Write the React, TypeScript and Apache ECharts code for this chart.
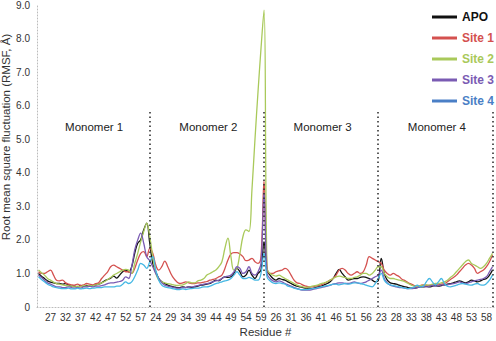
import React, { useEffect, useRef } from "react";
import * as echarts from "echarts";

// Residue numbering of each monomer (x-axis ticks)
const residueFirst = 23;
const residueLast = 60;
const monomerNames = ["Monomer 1", "Monomer 2", "Monomer 3", "Monomer 4"];
const yTicks = [0, 1, 2, 3, 4, 5, 6, 7, 8, 9];

const seriesNames = ["APO", "Site 1", "Site 2", "Site 3", "Site 4"];
const lineColors = ["#111111", "#d4514f", "#a9c95a", "#7a5bb3", "#45b8e4"];
const legendColors = ["#111111", "#d4514f", "#a9c95a", "#7a5bb3", "#4a7fc6"];

// RMSF values per monomer (residues 23..60)
const apoM1 = [1.0, 0.92, 0.85, 0.78, 0.74, 0.72, 0.7, 0.7, 0.68, 0.7, 0.66, 0.62, 0.62, 0.6, 0.64, 0.62, 0.64, 0.62, 0.64, 0.66, 0.68, 0.72, 0.78, 0.82, 0.86, 0.92, 0.86, 0.95, 1.05, 1.1, 1.05, 1.2, 1.6, 1.9, 2.0, 2.3, 2.5, 1.9];
const apoM2 = [1.3, 1.05, 0.85, 0.75, 0.7, 0.65, 0.62, 0.6, 0.58, 0.58, 0.6, 0.58, 0.6, 0.58, 0.6, 0.62, 0.65, 0.66, 0.68, 0.7, 0.75, 0.8, 0.78, 0.85, 0.9, 0.88, 0.9, 1.0, 1.15, 1.05, 0.9, 0.95, 1.1, 0.95, 0.85, 1.0, 1.1, 1.95];
const apoM3 = [1.1, 0.95, 0.85, 0.8, 0.85, 0.82, 0.8, 0.75, 0.7, 0.65, 0.62, 0.6, 0.58, 0.56, 0.56, 0.55, 0.58, 0.6, 0.62, 0.66, 0.7, 0.75, 0.85, 1.0, 1.12, 1.0, 0.9, 0.8, 0.82, 0.85, 0.85, 0.88, 0.9, 0.88, 0.85, 0.8, 0.75, 0.78];
const apoM4 = [1.45, 1.0, 0.8, 0.72, 0.7, 0.68, 0.65, 0.62, 0.6, 0.58, 0.56, 0.56, 0.58, 0.6, 0.6, 0.62, 0.6, 0.62, 0.64, 0.62, 0.64, 0.66, 0.68, 0.7, 0.72, 0.75, 0.78, 0.75, 0.72, 0.75, 0.8, 0.78, 0.75, 0.78, 0.82, 0.85, 0.95, 1.1];

const site1M1 = [1.05, 1.0, 1.0, 1.05, 1.1, 0.95, 0.8, 0.78, 0.8, 0.72, 0.68, 0.66, 0.65, 0.68, 0.64, 0.66, 0.7, 0.68, 0.66, 0.7, 0.72, 0.85, 0.95, 1.05, 1.2, 1.25, 1.2, 1.15, 1.1, 1.05, 1.05, 1.0, 1.15, 1.4, 1.6, 1.65, 1.5, 1.75];
const site1M2 = [1.6, 1.25, 1.1, 1.2, 1.37, 1.2, 1.0, 0.85, 0.75, 0.7, 0.72, 0.75, 0.72, 0.7, 0.7, 0.72, 0.72, 0.74, 0.76, 0.8, 0.82, 0.85, 0.9, 0.95, 1.15, 1.4, 1.58, 1.62, 1.62, 1.58, 1.5, 1.38, 1.4, 1.45, 1.35, 1.3, 1.5, 3.75];
const site1M3 = [1.2, 1.0, 1.0, 1.05, 1.08, 1.1, 1.15, 1.1, 0.95, 0.8, 0.72, 0.7, 0.65, 0.62, 0.6, 0.6, 0.62, 0.64, 0.66, 0.7, 0.75, 0.8, 0.85, 0.95, 1.1, 1.15, 1.1, 1.0, 0.95, 1.0, 1.05, 1.0, 1.05, 1.25, 1.5, 1.45, 1.4, 1.35];
const site1M4 = [1.3, 1.1, 1.0, 0.95, 1.0, 0.95, 0.9, 0.82, 0.78, 0.72, 0.68, 0.64, 0.62, 0.64, 0.66, 0.65, 0.64, 0.66, 0.68, 0.66, 0.68, 0.7, 0.75, 0.82, 0.88, 0.95, 1.05, 1.15, 1.25, 1.3, 1.25, 1.15, 1.0, 1.05, 1.1, 1.2, 1.35, 1.55];

const site2M1 = [1.1, 1.02, 0.95, 0.85, 0.8, 0.74, 0.7, 0.68, 0.66, 0.64, 0.63, 0.62, 0.6, 0.62, 0.6, 0.64, 0.62, 0.64, 0.63, 0.66, 0.68, 0.72, 0.76, 0.82, 0.88, 0.95, 1.0, 1.05, 1.1, 1.12, 1.1, 1.0, 1.3, 1.6, 1.95, 2.25, 2.5, 2.1];
const site2M2 = [1.5, 1.0, 0.8, 0.75, 0.72, 0.7, 0.68, 0.66, 0.64, 0.65, 0.66, 0.7, 0.75, 0.72, 0.72, 0.78, 0.8, 0.85, 0.95, 1.0, 1.05, 1.1, 1.2, 1.35, 1.75, 2.05, 1.5, 1.1, 1.15, 1.6, 2.1, 2.3, 2.25, 3.5, 5.0, 6.4, 7.7, 8.85];
const site2M3 = [1.15, 1.0, 0.95, 0.92, 0.95, 0.9, 0.85, 0.8, 0.75, 0.7, 0.65, 0.62, 0.6, 0.58, 0.6, 0.62, 0.64, 0.66, 0.7, 0.72, 0.75, 0.8, 0.85, 0.9, 0.92, 0.9, 0.88, 0.85, 0.85, 0.88, 0.9, 0.95, 1.0, 1.0, 0.95, 1.0, 1.1, 1.2];
const site2M4 = [1.2, 1.0, 0.9, 0.85, 0.85, 0.82, 0.8, 0.78, 0.75, 0.7, 0.65, 0.62, 0.62, 0.64, 0.65, 0.66, 0.65, 0.68, 0.7, 0.7, 0.72, 0.75, 0.8, 0.88, 0.95, 1.05, 1.15, 1.25, 1.35, 1.4, 1.3, 1.25, 1.2, 1.15, 1.2, 1.3, 1.45, 1.6];

const site3M1 = [0.95, 0.88, 0.8, 0.72, 0.68, 0.64, 0.6, 0.6, 0.58, 0.58, 0.6, 0.58, 0.56, 0.58, 0.56, 0.6, 0.6, 0.62, 0.6, 0.62, 0.62, 0.64, 0.66, 0.7, 0.72, 0.72, 0.74, 0.76, 0.8, 0.9, 0.85, 1.2, 1.7, 2.0, 2.2, 1.9, 1.5, 1.38];
const site3M2 = [1.2, 1.0, 0.85, 0.72, 0.65, 0.62, 0.6, 0.58, 0.56, 0.56, 0.58, 0.58, 0.6, 0.6, 0.62, 0.64, 0.66, 0.68, 0.7, 0.72, 0.75, 0.78, 0.8, 0.85, 0.9, 0.92, 0.95, 1.05, 1.2, 1.15, 1.0, 1.05, 1.2, 1.0, 0.95, 1.05, 1.3, 3.4];
const site3M3 = [1.0, 0.85, 0.78, 0.75, 0.78, 0.75, 0.7, 0.66, 0.62, 0.58, 0.55, 0.52, 0.5, 0.5, 0.5, 0.52, 0.54, 0.56, 0.58, 0.6, 0.62, 0.65, 0.68, 0.7, 0.72, 0.72, 0.7, 0.7, 0.72, 0.75, 0.72, 0.7, 0.72, 0.75, 0.8, 0.85, 0.9, 0.95];
const site3M4 = [1.1, 0.85, 0.72, 0.65, 0.62, 0.6, 0.58, 0.58, 0.56, 0.55, 0.55, 0.56, 0.58, 0.6, 0.62, 0.6, 0.62, 0.64, 0.62, 0.64, 0.66, 0.65, 0.66, 0.68, 0.7, 0.72, 0.75, 0.72, 0.7, 0.72, 0.75, 0.78, 0.8, 0.82, 0.85, 0.9, 1.05, 1.2];

const site4M1 = [0.9, 0.82, 0.75, 0.68, 0.64, 0.6, 0.58, 0.56, 0.55, 0.55, 0.56, 0.54, 0.54, 0.56, 0.54, 0.55, 0.56, 0.55, 0.56, 0.57, 0.58, 0.58, 0.6, 0.6, 0.6, 0.6, 0.62, 0.62, 0.68, 0.75, 0.7, 0.75, 0.9, 1.1, 1.3, 1.25, 1.15, 1.35];
const site4M2 = [1.5, 1.1, 0.8, 0.65, 0.6, 0.58, 0.56, 0.54, 0.52, 0.52, 0.54, 0.52, 0.54, 0.55, 0.56, 0.56, 0.58, 0.6, 0.6, 0.62, 0.66, 0.7, 0.72, 0.75, 0.78, 0.8, 0.85, 0.95, 1.05, 0.95, 0.85, 0.85, 0.88, 0.85, 0.8, 0.8, 1.0, 1.6];
const site4M3 = [0.9, 0.78, 0.72, 0.7, 0.72, 0.7, 0.68, 0.62, 0.6, 0.56, 0.54, 0.52, 0.52, 0.52, 0.53, 0.55, 0.56, 0.58, 0.6, 0.62, 0.64, 0.65, 0.68, 0.68, 0.66, 0.68, 0.7, 0.68, 0.7, 0.72, 0.72, 0.7, 0.68, 0.65, 0.62, 0.6, 0.7, 0.85];
const site4M4 = [1.0, 0.8, 0.7, 0.66, 0.64, 0.62, 0.6, 0.58, 0.56, 0.55, 0.56, 0.6, 0.65, 0.6, 0.62, 0.75, 0.85, 0.75, 0.65, 0.75, 0.85, 0.7, 0.62, 0.6, 0.62, 0.65, 0.68, 0.7, 0.68, 0.66, 0.65, 0.68, 0.7, 0.66, 0.65, 0.7, 0.8, 0.95];

const seriesData = [
  [...apoM1, ...apoM2, ...apoM3, ...apoM4],
  [...site1M1, ...site1M2, ...site1M3, ...site1M4],
  [...site2M1, ...site2M2, ...site2M3, ...site2M4],
  [...site3M1, ...site3M2, ...site3M3, ...site3M4],
  [...site4M1, ...site4M2, ...site4M3, ...site4M4],
];

const FONT = "'Liberation Sans', Arial, Helvetica, sans-serif";

export default function App() {
  const ref = useRef<HTMLDivElement>(null);
  useEffect(() => {
    if (!ref.current) return;
    const chart = echarts.init(ref.current, undefined, { renderer: "svg" });

    const perMonomer = residueLast - residueFirst + 1;
    const categories: string[] = [];
    monomerNames.forEach((_, m) => {
      for (let r = residueFirst; r <= residueLast; r++) categories.push(`${m}-${r}`);
    });
    const boundaries = monomerNames.map((_, m) => (m + 1) * perMonomer - 1);

    const gridLeft = 37;
    const gridRight = 2;
    const gridTop = 5;
    const gridBottom = 34;
    const plotW = 496 - gridLeft - gridRight;
    const band = plotW / categories.length;

    const series: any[] = seriesNames.map((name, i) => ({
      name,
      type: "line",
      data: seriesData[i],
      smooth: 0.4,
      showSymbol: false,
      symbol: "none",
      lineStyle: { color: lineColors[i], width: 1.3 },
      itemStyle: { color: lineColors[i] },
      z: 3,
    }));
    series[0].markLine = {
      silent: true,
      symbol: "none",
      label: { show: false },
      lineStyle: { color: "#333", type: [1.5, 3], width: 1.6 },
      data: boundaries.map((b) => [{ coord: [b, 0] }, { coord: [b, 5.9] }]),
    };

    const graphic = monomerNames.map((name, m) => ({
      type: "text",
      x: gridLeft + band * (m * perMonomer + perMonomer / 2),
      y: 127,
      style: {
        text: name,
        fill: "#222",
        font: `11.5px ${FONT}`,
        align: "center",
        verticalAlign: "middle",
      },
    }));

    chart.setOption({
      animation: false,
      textStyle: { fontFamily: FONT },
      grid: {
        left: gridLeft,
        right: gridRight,
        top: gridTop,
        bottom: gridBottom,
        containLabel: false,
        outerBoundsMode: "none",
      },
      legend: {
        orient: "vertical",
        left: 427,
        top: 6,
        icon: "rect",
        itemWidth: 25,
        itemHeight: 3,
        itemGap: 9,
        textStyle: { fontWeight: "bold", fontSize: 12, fontFamily: FONT },
        data: seriesNames.map((n, i) => ({
          name: n,
          itemStyle: { color: legendColors[i] },
          textStyle: { color: legendColors[i] },
        })),
      },
      xAxis: {
        type: "category",
        data: categories,
        boundaryGap: true,
        name: "Residue #",
        nameLocation: "middle",
        nameGap: 19,
        nameMoveOverlap: false,
        nameTextStyle: { fontSize: 11.5, color: "#333", fontFamily: FONT },
        axisLine: { lineStyle: { color: "#bbb", type: [1, 2], width: 1 } },
        axisTick: { show: false },
        splitLine: { show: false },
        axisLabel: {
          interval: (idx: number) => idx % 5 === 4,
          formatter: (v: string) => v.split("-")[1],
          fontSize: 10,
          color: "#333",
          margin: 5,
          fontFamily: FONT,
        },
      },
      yAxis: {
        type: "value",
        min: yTicks[0],
        max: yTicks[yTicks.length - 1],
        interval: 1,
        name: "Root mean square fluctuation (RMSF, Å)",
        nameLocation: "middle",
        nameGap: 25,
        nameMoveOverlap: false,
        nameTextStyle: { fontSize: 11.5, color: "#333", fontFamily: FONT, padding: [0, 0, 0, 38] },
        axisLine: { show: true, lineStyle: { color: "#bbb", type: [1, 2], width: 1 } },
        axisTick: { show: false },
        splitLine: { show: false },
        axisLabel: {
          formatter: (v: number) => (v === 0 ? "0" : v.toFixed(1)),
          fontSize: 10,
          color: "#333",
          margin: 7,
          fontFamily: FONT,
        },
      },
      graphic,
      series,
    });
    return () => chart.dispose();
  }, []);
  return <div ref={ref} style={{ width: 496, height: 341, position: "absolute", left: 0, top: 0 }} />;
}
